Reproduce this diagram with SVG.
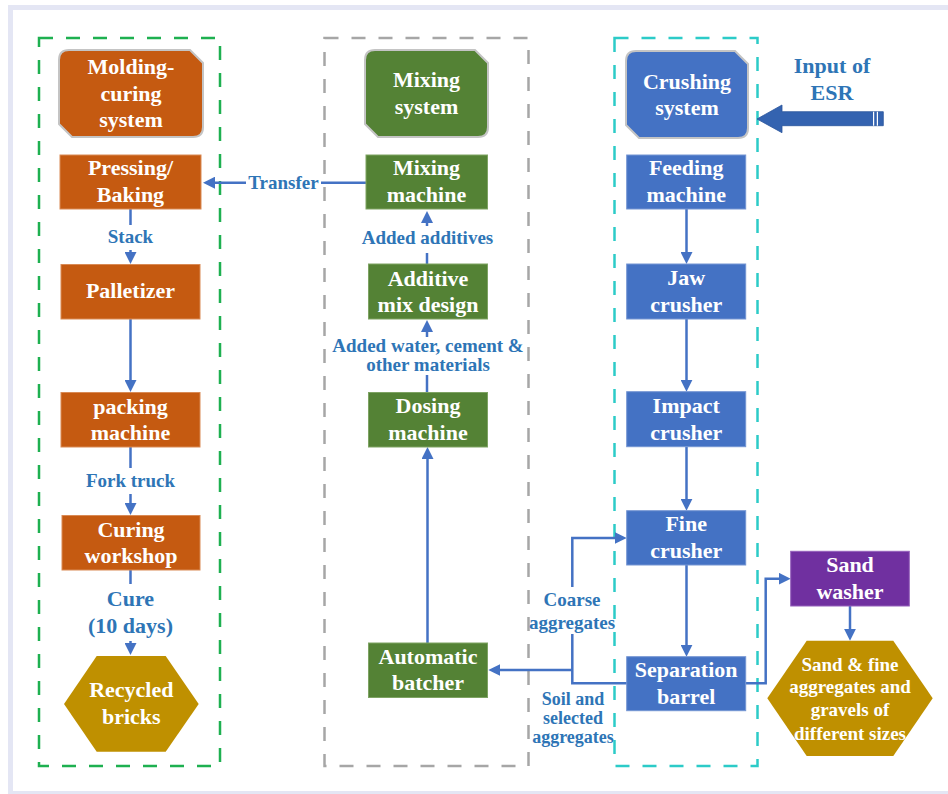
<svg xmlns="http://www.w3.org/2000/svg" width="948" height="794" viewBox="0 0 948 794">
<defs>
<style>
.t{font-family:"Liberation Serif","Times New Roman",serif;font-weight:bold;font-size:22px;fill:#ffffff;text-anchor:middle}
.l{font-family:"Liberation Serif","Times New Roman",serif;font-weight:bold;font-size:19px;fill:#2e75b6;text-anchor:middle}
.lb{font-size:22px}
.ls{font-size:18px}
.c{fill:none;stroke:#4472c4;stroke-width:2.5}
.a{marker-end:url(#ah)}
.or{fill:#c55a11;stroke:#d98a55;stroke-width:1}
.gr{fill:#548235;stroke:#7ea363;stroke-width:1}
.bl{fill:#4472c4;stroke:#7495d3;stroke-width:1}
.pu{fill:#7030a0;stroke:#9460bb;stroke-width:1}
.go{fill:#bf9000}
.hd{stroke:#c4c4c4;stroke-width:2}
.box{fill:none;stroke-width:2.5;stroke-dasharray:14 13}
</style>
<marker id="ah" viewBox="0 0 12 12" refX="8" refY="6" markerWidth="12" markerHeight="12" markerUnits="userSpaceOnUse" orient="auto">
<path d="M0,0 L12,6 L0,12 Z" fill="#4472c4"/>
</marker>
</defs>
<rect x="0" y="0" width="948" height="794" fill="#ffffff"/>
<rect x="10.5" y="7.5" width="950" height="786" fill="none" stroke="#e4e6f4" stroke-width="5"/>

<g id="groups">
<rect class="box" x="39" y="38" width="181" height="728" stroke="#1eb050"/>
<rect class="box" x="324.5" y="38" width="204" height="728" stroke="#a6a6a6"/>
<rect class="box" x="614.5" y="38" width="143" height="728" stroke="#2ccbc8"/>
</g>

<g id="connectors">
<path class="c a" d="M366,182.7 H321 M246,182.7 H207"/>
<path class="c" d="M130.5,209 V225"/>
<path class="c a" d="M130.5,250 V260"/>
<path class="c a" d="M130.5,319 V388"/>
<path class="c" d="M130.5,447 V468"/>
<path class="c a" d="M130.5,494 V511"/>
<path class="c" d="M130.5,570 V584"/>
<path class="c a" d="M130.5,641 V651"/>
<path class="c" d="M427,264 V253"/>
<path class="c a" d="M427,226 V215"/>
<path class="c" d="M427,392 V375"/>
<path class="c a" d="M427,337 V324"/>
<path class="c a" d="M427.5,643 V451"/>
<path class="c" d="M627,683.3 H572.3 V634"/>
<path class="c a" d="M572.3,587 V538 H622.7"/>
<path class="c a" d="M572.3,670 H492.3"/>
<path class="c a" d="M686.5,209 V260"/>
<path class="c a" d="M686.5,319 V387.7"/>
<path class="c a" d="M686.5,447 V506.7"/>
<path class="c a" d="M686.5,565 V652.7"/>
<path class="c a" d="M745.7,683.3 H765.7 V578.7 H786.7"/>
<path class="c a" d="M850,606 V636.7"/>
</g>

<g id="labels">
<text class="l" x="283.5" y="188.5">Transfer</text>
<text class="l" x="130.5" y="243">Stack</text>
<text class="l" x="130.5" y="486.5">Fork truck</text>
<text class="l lb" x="130.5" y="606">Cure</text>
<text class="l lb" x="130.5" y="633">(10 days)</text>
<text class="l" x="427.5" y="244">Added additives</text>
<text class="l" x="428" y="352">Added water, cement &amp;</text>
<text class="l" x="428" y="371">other materials</text>
<text class="l" x="572" y="605.5">Coarse</text>
<text class="l" x="572" y="628.5">aggregates</text>
<text class="l ls" x="573" y="705">Soil and</text>
<text class="l ls" x="573" y="724">selected</text>
<text class="l ls" x="573" y="743">aggregates</text>
</g>

<g id="input-esr">
<text class="l lb" x="832" y="73">Input of</text>
<text class="l lb" x="832" y="100">ESR</text>
<path d="M757,119 L782,105 L782,111.7 L883.3,111.7 L883.3,125.7 L782,125.7 L782,132.7 Z" fill="#3463b0" stroke="#2b559c" stroke-width="0.8"/>
<rect x="873" y="111.7" width="1.2" height="14" fill="#ffffff"/>
<rect x="876.8" y="111.7" width="1.2" height="14" fill="#ffffff"/>
</g>

<g id="molding-header">
<path class="or hd" d="M69,50 H190 L203,63 V127 Q203,137 193,137 H72 L59,124 V60 Q59,50 69,50 Z"/>
<text class="t" x="131" y="74">Molding-</text>
<text class="t" x="131" y="101">curing</text>
<text class="t" x="131" y="127">system</text>
</g>
<g id="pressing">
<rect class="or" x="60" y="155" width="141" height="54"/>
<text class="t" x="130.5" y="175">Pressing/</text>
<text class="t" x="130.5" y="202">Baking</text>
</g>
<g id="palletizer">
<rect class="or" x="61" y="264.5" width="139" height="54.5"/>
<text class="t" x="130.5" y="298">Palletizer</text>
</g>
<g id="packing">
<rect class="or" x="61" y="392.5" width="139" height="54.5"/>
<text class="t" x="130.5" y="413.5">packing</text>
<text class="t" x="130.5" y="439.5">machine</text>
</g>
<g id="curing">
<rect class="or" x="62" y="515.5" width="138" height="54.5"/>
<text class="t" x="131" y="537">Curing</text>
<text class="t" x="131" y="563">workshop</text>
</g>
<g id="recycled-bricks">
<polygon class="go" points="64,704 96.7,656 165.7,656 198.7,704 165.7,751.7 96.7,751.7"/>
<text class="t" x="131.3" y="697">Recycled</text>
<text class="t" x="131.3" y="724">bricks</text>
</g>

<g id="mixing-header">
<path class="gr hd" d="M375,50 H475 L488,63 V127 Q488,137 478,137 H378 L365,124 V60 Q365,50 375,50 Z"/>
<text class="t" x="426.5" y="87">Mixing</text>
<text class="t" x="426.5" y="114">system</text>
</g>
<g id="mixing-machine">
<rect class="gr" x="366" y="155" width="121.5" height="54"/>
<text class="t" x="426.5" y="175">Mixing</text>
<text class="t" x="426.5" y="202">machine</text>
</g>
<g id="additive">
<rect class="gr" x="368.5" y="264" width="119" height="55"/>
<text class="t" x="428" y="286">Additive</text>
<text class="t" x="428" y="312">mix design</text>
</g>
<g id="dosing">
<rect class="gr" x="368.5" y="392.5" width="119" height="54.5"/>
<text class="t" x="428" y="413">Dosing</text>
<text class="t" x="428" y="440">machine</text>
</g>
<g id="batcher">
<rect class="gr" x="368.5" y="643" width="119" height="54.5"/>
<text class="t" x="428" y="663.5">Automatic</text>
<text class="t" x="428" y="690">batcher</text>
</g>

<g id="crushing-header">
<path class="bl hd" d="M636,51 H735 L748,64 V128 Q748,138 738,138 H639 L626,125 V61 Q626,51 636,51 Z"/>
<text class="t" x="687" y="88.5">Crushing</text>
<text class="t" x="687" y="115">system</text>
</g>
<g id="feeding">
<rect class="bl" x="626.7" y="155" width="119" height="54"/>
<text class="t" x="686.2" y="175">Feeding</text>
<text class="t" x="686.2" y="202">machine</text>
</g>
<g id="jaw">
<rect class="bl" x="626.7" y="264" width="119" height="55"/>
<text class="t" x="686.2" y="285">Jaw</text>
<text class="t" x="686.2" y="312">crusher</text>
</g>
<g id="impact">
<rect class="bl" x="626.7" y="391.7" width="119" height="55"/>
<text class="t" x="686.2" y="413">Impact</text>
<text class="t" x="686.2" y="440">crusher</text>
</g>
<g id="fine">
<rect class="bl" x="626.7" y="510.7" width="119" height="54.3"/>
<text class="t" x="686.2" y="531">Fine</text>
<text class="t" x="686.2" y="558">crusher</text>
</g>
<g id="separation">
<rect class="bl" x="626.7" y="656.7" width="119" height="54"/>
<text class="t" x="686.2" y="677">Separation</text>
<text class="t" x="686.2" y="703.5">barrel</text>
</g>
<g id="sand-washer">
<rect class="pu" x="790.7" y="551.3" width="118.6" height="54.7"/>
<text class="t" x="850" y="572">Sand</text>
<text class="t" x="850" y="598.5">washer</text>
</g>
<g id="sand-products">
<polygon class="go" points="767.3,698.3 806.7,640.7 893.3,640.7 932.7,698.3 893.3,756 806.7,756"/>
<text class="t" x="850" y="670.5" style="font-size:19px">Sand &amp; fine</text>
<text class="t" x="850" y="693" style="font-size:19px">aggregates and</text>
<text class="t" x="850" y="716" style="font-size:19px">gravels of</text>
<text class="t" x="850" y="739.5" style="font-size:19px">different sizes</text>
</g>
</svg>
